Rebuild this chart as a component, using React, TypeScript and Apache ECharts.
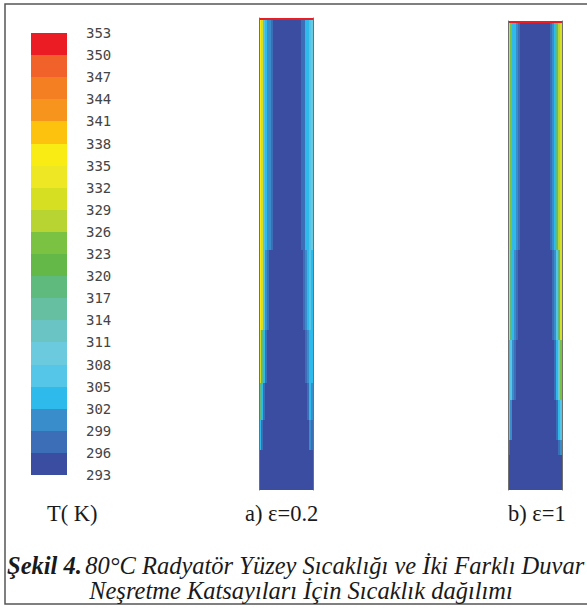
import React, { useEffect, useRef } from 'react';
import * as echarts from 'echarts';

// Temperature scale (K), top to bottom
const tempTicks = [353, 350, 347, 344, 341, 338, 335, 332, 329, 326, 323, 320, 317, 314, 311, 308, 305, 302, 299, 296, 293];
// Colour of each band between tempTicks[k+1] and tempTicks[k]
const bandColors = ['#EC1C24', '#F0622A', '#F37F22', '#F7941D', '#FCC20E', '#F9EC14', '#EDE823', '#D7DF23', '#B8D433', '#7CC242', '#63B847', '#5FBA7D', '#65BFA0', '#6AC4C4', '#6CCADE', '#55C5E8', '#2FBAEC', '#3A8DCB', '#3C6EB8', '#3A4DA1'];

// Lateral temperature profiles (27 cells across the channel, left wall to right wall)
const redLine = [351, 351, 351, 351, 351, 351, 351, 351, 351, 351, 351, 351, 351, 351, 351, 351, 351, 351, 351, 351, 351, 351, 351, 351, 351, 351, 351];
const uniform = [294, 294, 294, 294, 294, 294, 294, 294, 294, 294, 294, 294, 294, 294, 294, 294, 294, 294, 294, 294, 294, 294, 294, 294, 294, 294, 294];

// a) emissivity 0.2
const a1 = [336, 330, 306, 303, 300, 300, 297, 294, 294, 294, 294, 294, 294, 294, 294, 294, 294, 294, 294, 294, 294, 297, 297, 303, 303, 306, 309];
const a2 = [336, 330, 306, 300, 297, 294, 294, 294, 294, 294, 294, 294, 294, 294, 294, 294, 294, 294, 294, 294, 294, 294, 297, 300, 303, 306, 303];
const a3 = [330, 318, 303, 297, 294, 294, 294, 294, 294, 294, 294, 294, 294, 294, 294, 294, 294, 294, 294, 294, 294, 294, 294, 297, 300, 303, 303];
const a4 = [318, 303, 297, 294, 294, 294, 294, 294, 294, 294, 294, 294, 294, 294, 294, 294, 294, 294, 294, 294, 294, 294, 294, 294, 297, 303, 300];
const a5 = [303, 297, 294, 294, 294, 294, 294, 294, 294, 294, 294, 294, 294, 294, 294, 294, 294, 294, 294, 294, 294, 294, 294, 294, 294, 300, 297];

// b) emissivity 1
const b1 = [330, 324, 303, 303, 300, 297, 294, 294, 294, 294, 294, 294, 294, 294, 294, 294, 294, 294, 294, 294, 294, 297, 300, 303, 318, 327, 330];
const b2 = [330, 318, 303, 300, 297, 294, 294, 294, 294, 294, 294, 294, 294, 294, 294, 294, 294, 294, 294, 294, 294, 294, 297, 300, 306, 318, 330];
const b3 = [324, 306, 300, 297, 294, 294, 294, 294, 294, 294, 294, 294, 294, 294, 294, 294, 294, 294, 294, 294, 294, 294, 294, 297, 303, 309, 324];
const b4 = [306, 300, 294, 294, 294, 294, 294, 294, 294, 294, 294, 294, 294, 294, 294, 294, 294, 294, 294, 294, 294, 294, 294, 294, 297, 303, 306];
const b5 = [297, 294, 294, 294, 294, 294, 294, 294, 294, 294, 294, 294, 294, 294, 294, 294, 294, 294, 294, 294, 294, 294, 294, 294, 294, 297, 300];

// Height zones (% of channel height, bottom = 0) with their profiles
const zonesA = [
  { from: 99.68, to: 100, profile: redLine },
  { from: 50.8, to: 99.68, profile: a1 },
  { from: 33.9, to: 50.8, profile: a2 },
  { from: 22.7, to: 33.9, profile: a3 },
  { from: 14.8, to: 22.7, profile: a4 },
  { from: 8.5, to: 14.8, profile: a5 },
  { from: 0, to: 8.5, profile: uniform },
];
const zonesB = [
  { from: 99.68, to: 100, profile: redLine },
  { from: 51.2, to: 99.68, profile: b1 },
  { from: 32.0, to: 51.2, profile: b2 },
  { from: 19.2, to: 32.0, profile: b3 },
  { from: 10.7, to: 19.2, profile: b4 },
  { from: 7.5, to: 10.7, profile: b5 },
  { from: 0, to: 7.5, profile: uniform },
];

function buildCells(zones: { from: number; to: number; profile: number[] }[]) {
  const out: number[][] = [];
  zones.forEach((z) => z.profile.forEach((t, i) => out.push([i, z.from, z.to, t])));
  return out;
}

const legendData = bandColors.map((_, k) => [0, tempTicks[k + 1], tempTicks[k], (tempTicks[k] + tempTicks[k + 1]) / 2]);

const renderCell = (params: any, api: any) => {
  const i = api.value(0);
  const y0 = api.value(1);
  const y1 = api.value(2);
  const p0 = api.coord([i - 0.5, y1]);
  const p1 = api.coord([i + 0.5, y0]);
  const x = Math.round(p0[0]);
  const y = Math.round(p0[1]);
  const w = Math.round(p1[0]) - x;
  const h = Math.max(1, Math.round(p1[1]) - y);
  return {
    type: 'rect',
    shape: { x, y, width: w, height: h },
    style: { fill: api.visual('color') },
  };
};

const edgeAxis = (gridIndex: number, position: string) => ({
  gridIndex,
  type: 'value',
  min: 0,
  max: 100,
  position,
  z: 5,
  axisLine: { show: true, onZero: false, lineStyle: { color: '#707070', width: 1 } },
  axisTick: { show: false },
  axisLabel: { show: false },
  splitLine: { show: false },
});

export default function App() {
  const ref = useRef<HTMLDivElement>(null);
  useEffect(() => {
    if (!ref.current) return;
    const chart = echarts.init(ref.current, null, { renderer: 'svg' });
    const serif = '"Liberation Serif", "Times New Roman", serif';
    const capFont = 24.5;
    const lblFont = 22.5;
    chart.setOption({
      animation: false,
      backgroundColor: '#ffffff',
      grid: [
        { left: 31, top: 33, width: 36, height: 442 },
        { left: 259, top: 18, width: 54, height: 472 },
        { left: 508, top: 21, width: 54, height: 469 },
      ],
      xAxis: [
        { gridIndex: 0, type: 'value', min: -0.5, max: 0.5, show: false },
        { gridIndex: 1, type: 'value', min: -0.5, max: 26.5, show: false },
        { gridIndex: 2, type: 'value', min: -0.5, max: 26.5, show: false },
      ],
      yAxis: [
        {
          gridIndex: 0,
          type: 'value',
          min: 293,
          max: 353,
          interval: 3,
          position: 'right',
          axisLine: { show: false },
          axisTick: { show: false },
          splitLine: { show: false },
          axisLabel: { margin: 19, color: '#444', fontFamily: '"DejaVu Sans Mono", monospace', fontSize: 14 },
        },
        edgeAxis(1, 'left'),
        edgeAxis(1, 'right'),
        edgeAxis(2, 'left'),
        edgeAxis(2, 'right'),
      ],
      visualMap: {
        type: 'piecewise',
        show: false,
        dimension: 3,
        seriesIndex: [0, 1, 2],
        pieces: bandColors.map((c, k) => ({ gte: tempTicks[k + 1], lt: tempTicks[k], color: c })),
      },
      series: [
        { type: 'custom', xAxisIndex: 0, yAxisIndex: 0, renderItem: renderCell, encode: { x: 0, y: [1, 2] }, data: legendData, silent: true },
        { type: 'custom', xAxisIndex: 1, yAxisIndex: 1, renderItem: renderCell, encode: { x: 0, y: [1, 2] }, data: buildCells(zonesA), silent: true },
        { type: 'custom', xAxisIndex: 2, yAxisIndex: 3, renderItem: renderCell, encode: { x: 0, y: [1, 2] }, data: buildCells(zonesB), silent: true },
      ],
      graphic: [
        { type: 'rect', z: 0, shape: { x: 5, y: 4, width: 600, height: 600 }, style: { fill: 'none', stroke: '#555', lineWidth: 1.5 } },
        { type: 'text', x: 47, y: 513, style: { text: 'T( K)', font: `${lblFont}px ${serif}`, fill: '#1a1a1a', textVerticalAlign: 'middle', verticalAlign: 'middle' } },
        { type: 'text', x: 245, y: 513, style: { text: 'a) ε=0.2', font: `${lblFont}px ${serif}`, fill: '#1a1a1a', textVerticalAlign: 'middle', verticalAlign: 'middle' } },
        { type: 'text', x: 508, y: 513, style: { text: 'b) ε=1', font: `${lblFont}px ${serif}`, fill: '#1a1a1a', textVerticalAlign: 'middle', verticalAlign: 'middle' } },
        {
          type: 'text',
          x: 7,
          y: 565,
          style: {
            text: '{b|Şekil 4.} {i|80°C Radyatör Yüzey Sıcaklığı ve İki Farklı Duvar}',
            fill: '#1a1a1a',
            textVerticalAlign: 'middle',
            verticalAlign: 'middle',
            rich: {
              b: { fontFamily: serif, fontSize: capFont, fontStyle: 'italic', fontWeight: 'bold', fill: '#1a1a1a', color: '#1a1a1a' },
              i: { fontFamily: serif, fontSize: capFont, fontStyle: 'italic', fill: '#1a1a1a', color: '#1a1a1a' },
            },
          },
        },
        { type: 'text', x: 301, y: 590, style: { text: 'Neşretme Katsayıları İçin Sıcaklık dağılımı', font: `italic ${capFont}px ${serif}`, fill: '#1a1a1a', textAlign: 'center', align: 'center', textVerticalAlign: 'middle', verticalAlign: 'middle' } },
      ],
    });
    return () => chart.dispose();
  }, []);
  return <div ref={ref} style={{ position: 'fixed', left: 0, top: 0, width: 587, height: 610, background: '#fff' }} />;
}
